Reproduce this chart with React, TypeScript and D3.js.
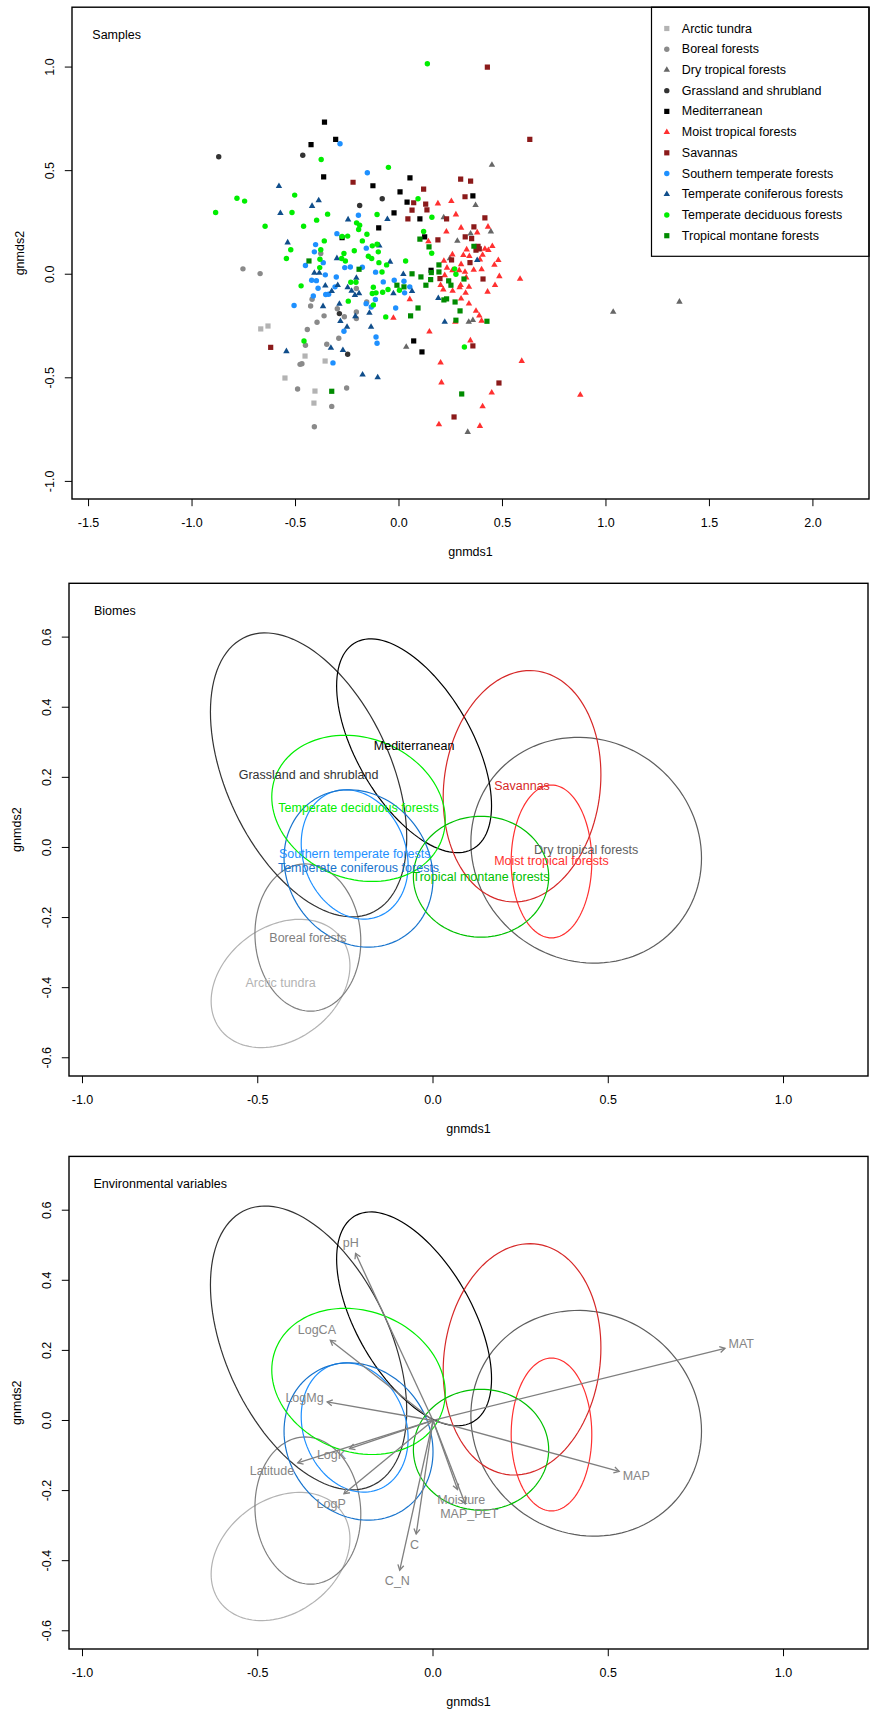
import React, { useEffect, useRef } from "react";
import * as d3 from "d3";

const WIDTH = 871;
const HEIGHT = 1709;
const FONT = "'Liberation Sans', Arial, Helvetica, sans-serif";
const FONT_SIZE = 12.5;

// biomes in legend order
const biomes = [
  "Arctic tundra",
  "Boreal forests",
  "Dry tropical forests",
  "Grassland and shrubland",
  "Mediterranean",
  "Moist tropical forests",
  "Savannas",
  "Southern temperate forests",
  "Temperate coniferous forests",
  "Temperate deciduous forests",
  "Tropical montane forests",
];
const pointColors = [
  "#B3B3B3", "#8A8A8A", "#666666", "#333333", "#000000", "#FF3030",
  "#8B1A1A", "#1E90FF", "#104E8B", "#00EE00", "#008B00",
];
const pointShapes = [
  "square", "circle", "triangle", "circle", "square", "triangle",
  "square", "circle", "triangle", "circle", "square",
];
const ellipseColors = [
  "#B3B3B3", "#7F7F7F", "#5E5E5E", "#333333", "#000000", "#FF3030",
  "#D62828", "#1E90FF", "#1874CD", "#00EE00", "#00C000",
];

// sample scores [gnmds1, gnmds2]
const arcticTundra: [number, number][] = [
  [-0.668, -0.264], [-0.633, -0.25], [-0.454, -0.395], [-0.357, -0.419],
  [-0.551, -0.501], [-0.406, -0.564], [-0.411, -0.622],
];
const borealForests: [number, number][] = [
  [-0.754, 0.026], [-0.671, 0.003], [-0.378, 0.1], [-0.206, -0.069],
  [-0.42, -0.121], [-0.427, -0.153], [-0.362, -0.201], [-0.396, -0.232],
  [-0.298, -0.167], [-0.264, -0.205], [-0.206, -0.182], [-0.206, -0.214],
  [-0.443, -0.267], [-0.291, -0.309], [-0.349, -0.338], [-0.452, -0.343],
  [-0.478, -0.435], [-0.469, -0.432], [-0.49, -0.554], [-0.253, -0.549],
  [-0.325, -0.638], [-0.409, -0.736], [-0.156, -0.134],
];
const dryTropical: [number, number][] = [
  [0.449, 0.528], [0.37, 0.333], [0.216, 0.274], [0.444, 0.206],
  [0.346, 0.196], [0.282, 0.161], [0.246, 0.076], [0.035, -0.351],
  [0.337, -0.23], [0.357, -0.222], [0.332, -0.762], [1.035, -0.182],
  [1.355, -0.133],
];
const grassland: [number, number][] = [
  [-0.871, 0.567], [-0.465, 0.574], [-0.081, 0.364], [-0.19, 0.332],
  [-0.288, -0.19], [-0.248, -0.386],
];
const mediterranean: [number, number][] = [
  [-0.36, 0.734], [-0.425, 0.626], [-0.306, 0.651], [-0.364, 0.47],
  [-0.126, 0.427], [-0.098, 0.224], [-0.275, 0.176], [0.053, 0.465],
  [0.005, 0.398], [0.039, 0.348], [-0.024, 0.296], [0.101, 0.267],
  [0.124, 0.18], [0.357, 0.378], [0.155, 0.019], [0.071, -0.322],
  [0.111, -0.375],
];
const moistTropical: [number, number][] = [
  [0.188, 0.341], [0.253, 0.353], [0.275, 0.288], [0.229, 0.205],
  [0.3, 0.224], [0.378, 0.201], [0.43, 0.229], [0.142, 0.158],
  [0.327, 0.119], [0.415, 0.122], [0.451, 0.135], [0.432, 0.116],
  [0.258, 0.095], [0.311, 0.092], [0.34, 0.087], [0.391, 0.071],
  [0.404, 0.093], [0.48, 0.068], [0.461, 0.045], [0.3, 0.048],
  [0.217, 0.064], [0.232, 0.031], [0.258, 0.019], [0.291, 0.019],
  [0.319, 0.011], [0.361, 0.021], [0.399, 0.023], [0.585, -0.023],
  [0.485, -0.01], [0.221, -0.005], [0.325, -0.016], [0.201, -0.053],
  [0.298, -0.053], [0.338, -0.061], [0.464, -0.053], [0.214, -0.074],
  [0.259, -0.081], [0.293, -0.064], [0.322, -0.09], [0.3, -0.118],
  [0.338, -0.142], [0.428, -0.085], [0.052, -0.121], [-0.027, -0.211],
  [0.272, -0.23], [0.372, -0.177], [0.388, -0.2], [0.399, -0.225],
  [0.147, -0.277], [0.345, -0.32], [0.201, -0.427], [0.593, -0.419],
  [0.205, -0.523], [0.448, -0.572], [0.404, -0.638], [0.876, -0.583],
  [0.193, -0.725], [0.391, -0.733],
];
const savannas: [number, number][] = [
  [0.427, 1.0], [0.632, 0.651], [-0.222, 0.444], [-0.62, -0.353],
  [0.298, 0.459], [0.346, 0.449], [0.119, 0.411], [0.319, 0.374],
  [0.071, 0.345], [0.129, 0.338], [0.063, 0.309], [0.135, 0.311],
  [0.043, 0.267], [0.23, 0.267], [0.415, 0.272], [0.362, 0.229],
  [0.188, 0.166], [0.32, 0.18], [0.351, 0.172], [0.382, 0.135],
  [0.388, 0.122], [0.372, 0.116], [0.254, 0.069], [0.343, 0.056],
  [0.198, -0.021], [0.406, -0.023], [0.357, -0.346], [0.483, -0.525],
  [0.266, -0.689],
];
const southernTemperate: [number, number][] = [
  [-0.285, 0.63], [-0.153, 0.49], [-0.196, 0.285], [-0.3, 0.196],
  [-0.403, 0.143], [-0.409, 0.108], [-0.158, 0.126], [-0.366, 0.056],
  [-0.452, 0.042], [-0.262, 0.032], [-0.235, 0.035], [-0.177, 0.034],
  [-0.113, 0.01], [-0.422, -0.029], [-0.399, -0.031], [-0.356, -0.003],
  [-0.303, -0.013], [-0.391, -0.068], [-0.354, -0.098], [-0.34, -0.097],
  [-0.309, -0.061], [-0.414, -0.105], [-0.507, -0.151], [-0.159, -0.142],
  [-0.114, -0.122], [-0.134, -0.158], [-0.266, -0.275], [-0.111, -0.303],
  [-0.106, -0.333], [-0.319, -0.428], [-0.076, -0.037], [-0.023, -0.029],
  [0.024, -0.034], [0.052, -0.061], [0.027, -0.09], [-0.016, -0.163],
];
const temperateConiferous: [number, number][] = [
  [-0.58, 0.425], [-0.388, 0.356], [-0.42, 0.329], [-0.573, 0.295],
  [-0.246, 0.264], [-0.056, 0.266], [-0.538, 0.153], [-0.095, 0.138],
  [-0.3, 0.077], [-0.409, 0.006], [-0.385, 0.006], [-0.206, -0.018],
  [-0.356, -0.055], [-0.296, -0.053], [-0.325, -0.082], [-0.248, -0.064],
  [-0.229, -0.081], [-0.213, -0.101], [-0.193, -0.093], [-0.367, -0.155],
  [-0.288, -0.143], [-0.283, -0.227], [-0.251, -0.254], [-0.211, -0.203],
  [-0.143, -0.187], [-0.135, -0.254], [-0.329, -0.356], [-0.271, -0.367],
  [-0.544, -0.372], [-0.176, -0.485], [-0.103, -0.498], [-0.043, 0.06],
  [0.021, 0.0], [-0.027, -0.093], [0.063, -0.082], [0.19, -0.116],
  [0.221, -0.23], [0.378, 0.068],
];
const temperateDeciduous: [number, number][] = [
  [0.137, 1.016], [-0.376, 0.554], [-0.051, 0.516], [-0.783, 0.367],
  [-0.746, 0.353], [-0.886, 0.298], [-0.504, 0.382], [-0.517, 0.298],
  [-0.345, 0.29], [-0.398, 0.261], [-0.647, 0.232], [-0.461, 0.232],
  [-0.106, 0.288], [-0.205, 0.248], [-0.19, 0.237], [-0.195, 0.216],
  [-0.155, 0.193], [-0.177, 0.161], [-0.275, 0.182], [-0.248, 0.184],
  [-0.361, 0.161], [-0.523, 0.118], [-0.378, 0.118], [-0.544, 0.076],
  [-0.382, 0.072], [-0.266, 0.1], [-0.216, 0.113], [-0.277, 0.076],
  [-0.259, 0.064], [-0.383, 0.032], [-0.129, 0.137], [-0.106, 0.145],
  [-0.148, 0.087], [-0.132, 0.076], [-0.097, 0.056], [-0.06, 0.045],
  [-0.082, 0.011], [-0.473, -0.056], [-0.233, -0.039], [-0.208, -0.039],
  [-0.124, -0.063], [-0.111, -0.09], [-0.129, -0.093], [-0.079, -0.087],
  [-0.053, -0.074], [-0.245, -0.13], [-0.124, -0.148], [-0.064, -0.206],
  [-0.459, -0.322], [-0.1, 0.108], [0.092, 0.364], [0.159, 0.275],
  [0.119, 0.206], [0.158, 0.101], [0.032, 0.064], [0.269, 0.026],
  [0.275, 0.0], [0.002, -0.077], [0.316, -0.351],
];
const tropicalMontane: [number, number][] = [
  [-0.435, 0.064], [-0.193, 0.024], [-0.325, -0.565], [0.101, 0.169],
  [0.145, 0.132], [0.193, 0.045], [0.193, 0.011], [0.156, 0.008],
  [0.063, 0.002], [0.106, -0.013], [0.153, -0.026], [0.24, -0.032],
  [0.251, -0.053], [0.13, -0.053], [-0.01, -0.053], [0.024, -0.061],
  [0.314, -0.023], [0.362, 0.135], [0.092, -0.163], [0.056, -0.201],
  [0.217, -0.124], [0.23, -0.119], [0.271, -0.134], [0.295, -0.177],
  [0.275, -0.222], [0.425, -0.227], [0.303, -0.578],
];
const samplesByBiome = [
  arcticTundra, borealForests, dryTropical, grassland, mediterranean,
  moistTropical, savannas, southernTemperate, temperateConiferous,
  temperateDeciduous, tropicalMontane,
];

// biome ellipses: centre, spread along each axis, correlation
const ellipseCx = [-0.435, -0.357, 0.437, -0.355, -0.054, 0.338, 0.254, -0.2235, -0.2125, -0.2125, 0.137];
const ellipseCy = [-0.388, -0.257, -0.008, 0.207, 0.29, -0.04, 0.1745, -0.02, -0.06, 0.1115, -0.0835];
const ellipseSx = [0.198, 0.151, 0.329, 0.28, 0.221, 0.115, 0.225, 0.1525, 0.2125, 0.2475, 0.193];
const ellipseSy = [0.183, 0.21, 0.322, 0.405, 0.305, 0.218, 0.33, 0.1845, 0.2245, 0.2085, 0.1725];
const ellipseR = [0.276, -0.05, -0.07, -0.443, -0.56, 0.0, 0.1, -0.17, -0.13, -0.156, 0.0];

// fitted environmental vectors
const envNames = ["pH", "LogCA", "MAT", "LogMg", "MAP", "LogK", "Latitude", "LogP", "Moisture", "MAP_PET", "C", "C_N"];
const envX = [-0.221, -0.293, 0.833, -0.302, 0.531, -0.238, -0.386, -0.254, 0.07, 0.092, -0.048, -0.095];
const envY = [0.477, 0.229, 0.206, 0.053, -0.145, -0.08, -0.121, -0.209, -0.197, -0.238, -0.324, -0.427];

const samplesXTicks = [-1.5, -1, -0.5, 0, 0.5, 1, 1.5, 2];
const samplesYTicks = [-1, -0.5, 0, 0.5, 1];
const biomeXTicks = [-1, -0.5, 0, 0.5, 1];
const biomeYTicks = [-0.6, -0.4, -0.2, 0, 0.2, 0.4, 0.6];

type Box = { top: number; bottom: number; left: number; right: number };

const symbolFor = (shape: string) => {
  if (shape === "square") return d3.symbol().type(d3.symbolSquare).size(27)();
  if (shape === "triangle") return d3.symbol().type(d3.symbolTriangle).size(18)();
  return d3.symbol().type(d3.symbolCircle).size(23)();
};

const drawFrame = (
  svg: d3.Selection<SVGSVGElement, unknown, null, undefined>,
  box: Box,
  x: d3.ScaleLinear<number, number>,
  y: d3.ScaleLinear<number, number>,
  xTicks: number[],
  yTicks: number[],
  title: string,
  titleX: number,
  id: string
) => {
  const fmt = (v: number) => v.toFixed(1);
  const axis = svg.append("g").attr("stroke", "#000").attr("stroke-width", 1);

  xTicks.forEach((t) => {
    axis.append("line").attr("x1", x(t)).attr("x2", x(t)).attr("y1", box.bottom).attr("y2", box.bottom + 7.2);
    svg.append("text")
      .attr("x", x(t)).attr("y", box.bottom + 23.5)
      .attr("text-anchor", "middle").attr("dominant-baseline", "central")
      .text(fmt(t));
  });
  yTicks.forEach((t) => {
    axis.append("line").attr("x1", box.left - 7.2).attr("x2", box.left).attr("y1", y(t)).attr("y2", y(t));
    const cx = box.left - 22;
    svg.append("text")
      .attr("x", cx).attr("y", y(t))
      .attr("transform", `rotate(-90, ${cx}, ${y(t)})`)
      .attr("text-anchor", "middle").attr("dominant-baseline", "central")
      .text(fmt(t));
  });

  svg.append("text")
    .attr("x", (box.left + box.right) / 2).attr("y", box.bottom + 52.5)
    .attr("text-anchor", "middle").attr("dominant-baseline", "central")
    .text("gnmds1");
  const gy = (box.top + box.bottom) / 2;
  svg.append("text")
    .attr("x", box.left - 52).attr("y", gy)
    .attr("transform", `rotate(-90, ${box.left - 52}, ${gy})`)
    .attr("text-anchor", "middle").attr("dominant-baseline", "central")
    .text("gnmds2");

  svg.append("text")
    .attr("x", titleX).attr("y", box.top + 28)
    .attr("dominant-baseline", "central")
    .text(title);

  svg.append("clipPath").attr("id", id)
    .append("rect")
    .attr("x", box.left).attr("y", box.top)
    .attr("width", box.right - box.left).attr("height", box.bottom - box.top);
};

const drawBox = (
  svg: d3.Selection<SVGSVGElement, unknown, null, undefined>,
  box: Box
) => {
  svg.append("rect")
    .attr("x", box.left).attr("y", box.top)
    .attr("width", box.right - box.left).attr("height", box.bottom - box.top)
    .attr("fill", "none").attr("stroke", "#000").attr("stroke-width", 1.4);
};

const drawEllipses = (
  g: d3.Selection<SVGGElement, unknown, null, undefined>,
  x: d3.ScaleLinear<number, number>,
  y: d3.ScaleLinear<number, number>,
  withLabels: boolean
) => {
  const steps = d3.range(0, 120).map((i) => (i / 120) * Math.PI * 2);
  biomes.forEach((name, i) => {
    const pts: [number, number][] = steps.map((t) => [
      ellipseCx[i] + ellipseSx[i] * Math.cos(t),
      ellipseCy[i] +
        ellipseR[i] * ellipseSy[i] * Math.cos(t) +
        ellipseSy[i] * Math.sqrt(1 - ellipseR[i] * ellipseR[i]) * Math.sin(t),
    ]);
    const line = d3.line<[number, number]>()
      .x((d) => x(d[0])).y((d) => y(d[1]))
      .curve(d3.curveLinearClosed);
    g.append("path")
      .attr("d", line(pts))
      .attr("fill", "none")
      .attr("stroke", ellipseColors[i])
      .attr("stroke-width", 1.2);
  });
  if (withLabels) {
    biomes.forEach((name, i) => {
      g.append("text")
        .attr("x", x(ellipseCx[i])).attr("y", y(ellipseCy[i]))
        .attr("text-anchor", "middle").attr("dominant-baseline", "central")
        .attr("fill", ellipseColors[i])
        .text(name);
    });
  }
};

const drawChart = (svgEl: SVGSVGElement) => {
  const svg = d3.select(svgEl);
  svg.selectAll("*").remove();
  svg.attr("font-family", FONT).attr("font-size", FONT_SIZE);

  svg.append("rect").attr("width", WIDTH).attr("height", HEIGHT).attr("fill", "#fff");

  // Samples
  const box1: Box = { top: 7.2, bottom: 499, left: 72, right: 869 };
  const x1 = d3.scaleLinear().domain([-1.58, 2.271]).range([box1.left, box1.right]);
  const y1 = d3.scaleLinear().domain([-1.085, 1.289]).range([box1.bottom, box1.top]);
  drawFrame(svg, box1, x1, y1, samplesXTicks, samplesYTicks, "Samples", 92.3, "clip1");

  const pg = svg.append("g").attr("clip-path", "url(#clip1)");
  samplesByBiome.forEach((pts, i) => {
    pg.selectAll(null)
      .data(pts)
      .enter()
      .append("path")
      .attr("d", symbolFor(pointShapes[i]))
      .attr("transform", (d) => `translate(${x1(d[0])},${y1(d[1])})`)
      .attr("fill", pointColors[i]);
  });

  // legend
  const legend = { left: 651.5, top: box1.top, right: box1.right, bottom: 256.3 };
  svg.append("rect")
    .attr("x", legend.left).attr("y", legend.top)
    .attr("width", legend.right - legend.left).attr("height", legend.bottom - legend.top)
    .attr("fill", "#fff").attr("stroke", "#000").attr("stroke-width", 1.2);
  biomes.forEach((name, i) => {
    const ly = 28.5 + i * 20.72;
    svg.append("path")
      .attr("d", symbolFor(pointShapes[i]))
      .attr("transform", `translate(666.8,${ly})`)
      .attr("fill", pointColors[i]);
    svg.append("text")
      .attr("x", 681.8).attr("y", ly)
      .attr("dominant-baseline", "central")
      .text(name);
  });
  drawBox(svg, box1);

  // Biomes
  const box2: Box = { top: 583.3, bottom: 1076, left: 69, right: 868 };
  const x2 = d3.scaleLinear().domain([-1.0385, 1.241]).range([box2.left, box2.right]);
  const y2 = d3.scaleLinear().domain([-0.652, 0.7535]).range([box2.bottom, box2.top]);
  drawFrame(svg, box2, x2, y2, biomeXTicks, biomeYTicks, "Biomes", 94, "clip2");
  const eg = svg.append("g").attr("clip-path", "url(#clip2)");
  drawEllipses(eg, x2, y2, true);
  drawBox(svg, box2);

  // Environmental variables
  const box3: Box = { top: 1156.4, bottom: 1649, left: 69, right: 868 };
  const x3 = d3.scaleLinear().domain([-1.0385, 1.241]).range([box3.left, box3.right]);
  const y3 = d3.scaleLinear().domain([-0.652, 0.7535]).range([box3.bottom, box3.top]);
  drawFrame(svg, box3, x3, y3, biomeXTicks, biomeYTicks, "Environmental variables", 93.5, "clip3");
  const vg = svg.append("g").attr("clip-path", "url(#clip3)");
  drawEllipses(vg, x3, y3, false);

  const arrowGrey = "#7F7F7F";
  const ox = x3(0);
  const oy = y3(0);
  envNames.forEach((name, i) => {
    const hx = x3(envX[i]);
    const hy = y3(envY[i]);
    vg.append("line")
      .attr("x1", ox).attr("y1", oy).attr("x2", hx).attr("y2", hy)
      .attr("stroke", arrowGrey).attr("stroke-width", 1.3);
    const ang = Math.atan2(hy - oy, hx - ox);
    const len = 6;
    const spread = Math.PI / 6;
    const head = d3.path();
    head.moveTo(hx - len * Math.cos(ang - spread), hy - len * Math.sin(ang - spread));
    head.lineTo(hx, hy);
    head.lineTo(hx - len * Math.cos(ang + spread), hy - len * Math.sin(ang + spread));
    vg.append("path")
      .attr("d", head.toString())
      .attr("fill", "none").attr("stroke", arrowGrey).attr("stroke-width", 1.3);

    // label just beyond the arrow tip, clear of the shaft
    const label = vg.append("text")
      .attr("text-anchor", "middle").attr("dominant-baseline", "central")
      .attr("fill", "#858585")
      .text(name);
    const w = (label.node() as SVGTextElement).getComputedTextLength();
    const h = 14;
    const dx = hx - ox;
    const dyUp = oy - hy;
    const slope = dyUp / dx;
    let offX = Math.sign(dx) * (w / 2 + h / 4);
    let offY = 0.75 * h * Math.sign(dyUp);
    const move = offY / slope;
    if (isFinite(move) && Math.abs(move) <= Math.abs(offX)) offX = move;
    else offY = slope * offX;
    label.attr("x", hx + offX).attr("y", hy - offY);
  });
  drawBox(svg, box3);
};

const App: React.FC = () => {
  const svgRef = useRef<SVGSVGElement>(null);

  useEffect(() => {
    if (svgRef.current) drawChart(svgRef.current);
  }, []);

  return (
    <svg
      ref={svgRef}
      width={WIDTH}
      height={HEIGHT}
      style={{ position: "absolute", left: 0, top: 0, display: "block" }}
    />
  );
};

export default App;
